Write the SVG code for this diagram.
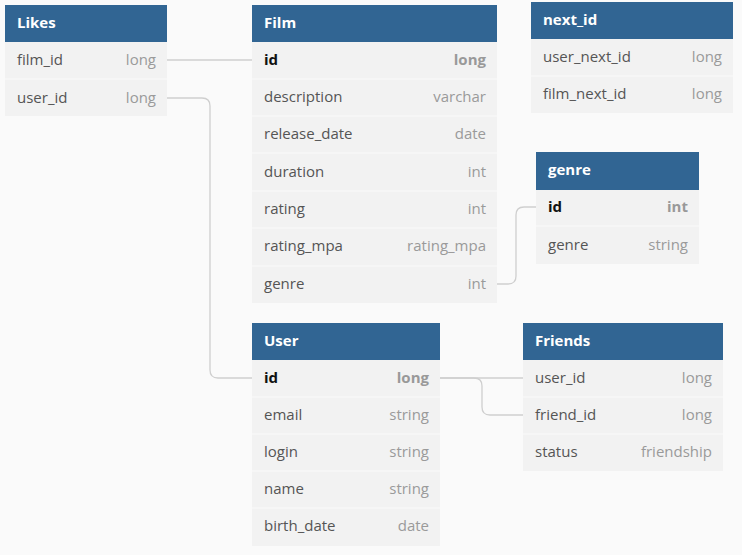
<svg xmlns="http://www.w3.org/2000/svg" width="742" height="555" viewBox="0 0 742 555">
<style>
.bg{fill:#fafafa}
.hd{fill:#316593}
.bd{fill:#f2f2f2}
.sep{stroke:#fafafa;stroke-width:1}
.ht{font-family:"Open Sans","Liberation Sans",sans-serif;font-size:15px;font-weight:bold;fill:#ffffff}
.fn{font-family:"Open Sans","Liberation Sans",sans-serif;font-size:15px;fill:#555555}
.ft{font-family:"Open Sans","Liberation Sans",sans-serif;font-size:15px;fill:#9a9a9a;text-anchor:end}
.pk{font-family:"Open Sans","Liberation Sans",sans-serif;font-size:15px;font-weight:bold;fill:#111111}
.pt{font-family:"Open Sans","Liberation Sans",sans-serif;font-size:15px;font-weight:bold;fill:#999999;text-anchor:end}
.cn{fill:none;stroke:#cfcfcf;stroke-width:1.3}
</style>
<rect class="bg" x="0" y="0" width="742" height="555"/>
<g id="connectors">
<path class="cn" d="M167,60 H252"/>
<path class="cn" d="M167,98 H202 Q210,98 210,106 V370 Q210,378 218,378 H252"/>
<path class="cn" d="M497,284 H508 Q516,284 516,276 V215 Q516,207 524,207 H536"/>
<path class="cn" d="M440,378 H523"/>
<path class="cn" d="M440,378 H474 Q482,378 482,386 V407 Q482,415 490,415 H523"/>
</g>
<g id="Likes">
<rect class="bd" x="5" y="5" width="162" height="111"/>
<rect class="hd" x="5" y="5" width="162" height="37"/>
<text class="ht" x="17" y="28">Likes</text>
<text class="fn" x="17" y="65">film_id</text><text class="ft" x="156" y="65">long</text>
<line class="sep" x1="5" y1="79" x2="167" y2="79"/>
<text class="fn" x="17" y="103">user_id</text><text class="ft" x="156" y="103">long</text>
</g>
<g id="Film">
<rect class="bd" x="252" y="5" width="245" height="298"/>
<rect class="hd" x="252" y="5" width="245" height="37"/>
<text class="ht" x="264" y="28">Film</text>
<text class="pk" x="264" y="65">id</text><text class="pt" x="486" y="65">long</text>
<line class="sep" x1="252" y1="79" x2="497" y2="79"/>
<text class="fn" x="264" y="102">description</text><text class="ft" x="486" y="102">varchar</text>
<line class="sep" x1="252" y1="116" x2="497" y2="116"/>
<text class="fn" x="264" y="139">release_date</text><text class="ft" x="486" y="139">date</text>
<line class="sep" x1="252" y1="153" x2="497" y2="153"/>
<text class="fn" x="264" y="177">duration</text><text class="ft" x="486" y="177">int</text>
<line class="sep" x1="252" y1="191" x2="497" y2="191"/>
<text class="fn" x="264" y="214">rating</text><text class="ft" x="486" y="214">int</text>
<line class="sep" x1="252" y1="228" x2="497" y2="228"/>
<text class="fn" x="264" y="251">rating_mpa</text><text class="ft" x="486" y="251">rating_mpa</text>
<line class="sep" x1="252" y1="266" x2="497" y2="266"/>
<text class="fn" x="264" y="289">genre</text><text class="ft" x="486" y="289">int</text>
</g>
<g id="next_id">
<rect class="bd" x="531" y="2" width="202" height="111"/>
<rect class="hd" x="531" y="2" width="202" height="37"/>
<text class="ht" x="543" y="25">next_id</text>
<text class="fn" x="543" y="62">user_next_id</text><text class="ft" x="722" y="62">long</text>
<line class="sep" x1="531" y1="76" x2="733" y2="76"/>
<text class="fn" x="543" y="99">film_next_id</text><text class="ft" x="722" y="99">long</text>
</g>
<g id="genre">
<rect class="bd" x="536" y="152" width="163" height="112"/>
<rect class="hd" x="536" y="152" width="163" height="38"/>
<text class="ht" x="548" y="175">genre</text>
<text class="pk" x="548" y="212">id</text><text class="pt" x="688" y="212">int</text>
<line class="sep" x1="536" y1="226" x2="699" y2="226"/>
<text class="fn" x="548" y="250">genre</text><text class="ft" x="688" y="250">string</text>
</g>
<g id="User">
<rect class="bd" x="252" y="323" width="188" height="223"/>
<rect class="hd" x="252" y="323" width="188" height="37"/>
<text class="ht" x="264" y="346">User</text>
<text class="pk" x="264" y="383">id</text><text class="pt" x="429" y="383">long</text>
<line class="sep" x1="252" y1="397" x2="440" y2="397"/>
<text class="fn" x="264" y="420">email</text><text class="ft" x="429" y="420">string</text>
<line class="sep" x1="252" y1="434" x2="440" y2="434"/>
<text class="fn" x="264" y="457">login</text><text class="ft" x="429" y="457">string</text>
<line class="sep" x1="252" y1="471" x2="440" y2="471"/>
<text class="fn" x="264" y="494">name</text><text class="ft" x="429" y="494">string</text>
<line class="sep" x1="252" y1="508" x2="440" y2="508"/>
<text class="fn" x="264" y="531">birth_date</text><text class="ft" x="429" y="531">date</text>
</g>
<g id="Friends">
<rect class="bd" x="523" y="323" width="200" height="148"/>
<rect class="hd" x="523" y="323" width="200" height="37"/>
<text class="ht" x="535" y="346">Friends</text>
<text class="fn" x="535" y="383">user_id</text><text class="ft" x="712" y="383">long</text>
<line class="sep" x1="523" y1="397" x2="723" y2="397"/>
<text class="fn" x="535" y="420">friend_id</text><text class="ft" x="712" y="420">long</text>
<line class="sep" x1="523" y1="434" x2="723" y2="434"/>
<text class="fn" x="535" y="457">status</text><text class="ft" x="712" y="457">friendship</text>
</g>
</svg>
